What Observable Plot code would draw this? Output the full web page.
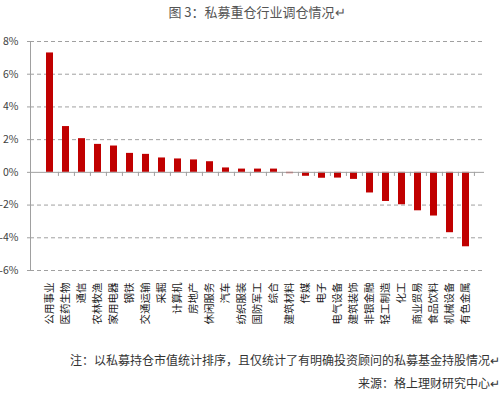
<!DOCTYPE html>
<html><head><meta charset="utf-8">
<script src="https://cdn.jsdelivr.net/npm/d3@7"></script>
<script src="https://cdn.jsdelivr.net/npm/@observablehq/plot@0.6"></script>
<style>
body{margin:0;background:#fff;width:500px;height:398px;position:relative;overflow:hidden;font-family:"Noto Sans CJK SC",sans-serif;}
#title{position:absolute;top:2px;left:0;width:500px;text-align:center;font-size:13px;color:#555;padding-left:14px;box-sizing:border-box;}
#chart{position:absolute;top:30px;left:0;}
.note{position:absolute;right:0px;font-size:12px;color:#333;white-space:nowrap;}
</style></head><body>
<div id="title">图&nbsp;3：私募重仓行业调仓情况↵</div>
<div id="chart"></div>
<div class="note" style="top:351px">注：以私募持仓市值统计排序，且仅统计了有明确投资顾问的私募基金持股情况↵</div>
<div class="note" style="top:374px">来源：格上理财研究中心↵</div>
<script>
const categories = ["公用事业","医药生物","通信","农林牧渔","家用电器","钢铁","交通运输","采掘","计算机","房地产","休闲服务","汽车","纺织服装","国防军工","综合","建筑材料","传媒","电子","电气设备","建筑装饰","非银金融","轻工制造","化工","商业贸易","食品饮料","机械设备","有色金属"];
const values = [7.3, 2.8, 2.06, 1.71, 1.61, 1.16, 1.1, 0.88, 0.82, 0.76, 0.65, 0.27, 0.2, 0.2, 0.2, -0.08, -0.24, -0.36, -0.35, -0.43, -1.26, -1.78, -1.98, -2.35, -2.67, -3.69, -4.55];
const yTicks = [-6, -4, -2, 0, 2, 4, 6, 8];

const data = categories.map((c, i) => ({cat: c, v: values[i]}));
const W = 500, ML = 30, MR = 16;
const step = (W - ML - MR) / categories.length;
const gray = "#a0a0a0";

const chart = Plot.plot({
  width: W, height: 295,
  marginLeft: ML, marginRight: MR, marginTop: 11, marginBottom: 55,
  style: {fontFamily: '"Noto Sans CJK SC", sans-serif', background: "#fff"},
  x: {domain: categories, paddingInner: 0.58, paddingOuter: 0.29},
  y: {domain: [-6, 8]},
  marks: [
    Plot.ruleY(yTicks.filter(d => d !== 0), {stroke: gray, strokeDasharray: "4,3", strokeWidth: 1}),
    Plot.frame({anchor: "left", stroke: gray}),
    Plot.barY(data, {x: "cat", y: "v", fill: "#c00000"}),
    Plot.ruleY([0], {stroke: gray}),
    Plot.ruleX(categories, {x: d => d, y1: 0, y2: -0.25, dx: step / 2, stroke: gray}),
    Plot.axisY({ticks: yTicks, tickFormat: d => d + "%", tickSize: 3, tickPadding: 9, stroke: gray, fill: "#404040", fontSize: 10.5, label: null}),
    Plot.axisX({anchor: "bottom", tickRotate: -90, tickSize: 0, tickPadding: 12, fontSize: 10.5, fill: "#222", label: null})
  ]
});
document.getElementById("chart").appendChild(chart);
</script>
</body></html>
